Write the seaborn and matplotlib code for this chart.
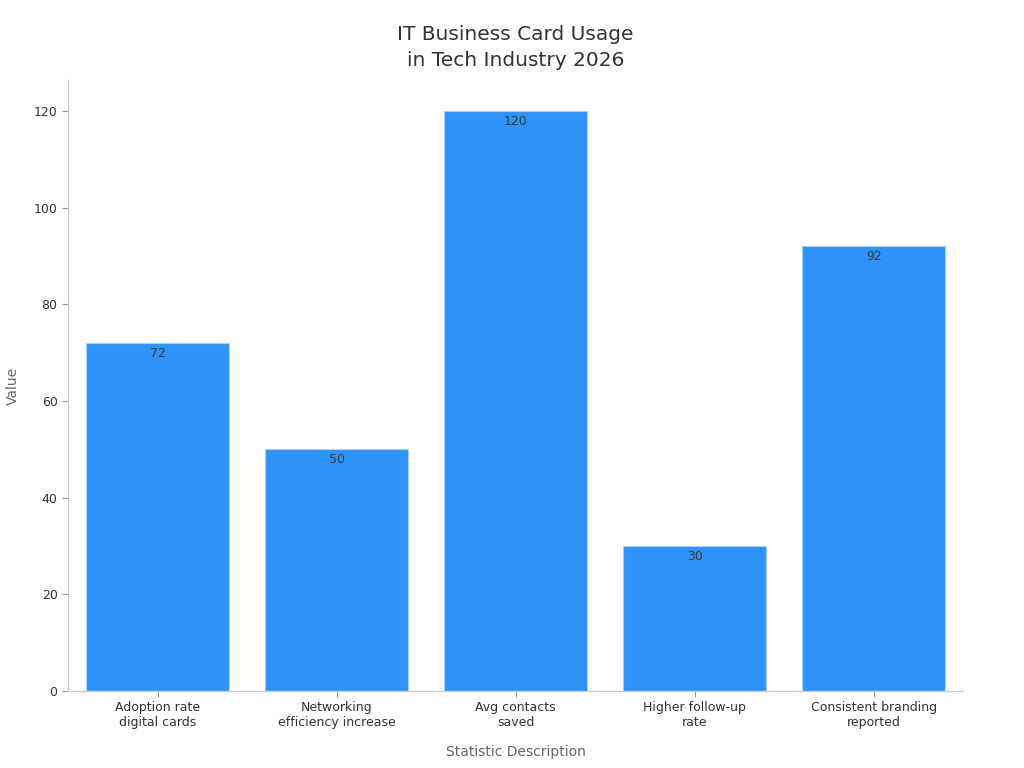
import pandas as pd
import matplotlib.pyplot as plt
import seaborn as sns

# data
categories = [
    "Adoption rate\ndigital cards",
    "Networking\nefficiency increase",
    "Avg contacts\nsaved",
    "Higher follow-up\nrate",
    "Consistent branding\nreported",
]
values = [72, 50, 120, 30, 92]

df = pd.DataFrame({"Statistic Description": categories, "Value": values})

sns.set_theme(style="white")
plt.rcParams['font.family'] = ['DejaVu Sans']

fig = plt.figure(figsize=(10.24, 7.68), dpi=100)
ax = fig.add_axes([0.0664, 0.1003, 0.8742, 0.7955])

sns.barplot(
    data=df, x="Statistic Description", y="Value",
    color="#2E93FA", saturation=1, width=0.8,
    edgecolor="#a6d0fb", linewidth=0.8, ax=ax,
)

# value labels just inside the top of each bar
for p, v in zip(ax.patches, values):
    ax.annotate(str(v), (p.get_x() + p.get_width() / 2, p.get_height()),
                xytext=(0, -3), textcoords="offset points",
                ha="center", va="top", fontsize=9, color="#373d3f")

ax.set_xlim(-0.5, 4.5)
ax.set_ylim(0, 126.4)
ax.set_yticks([0, 20, 40, 60, 80, 100, 120])

ax.set_title("IT Business Card Usage\nin Tech Industry 2026", fontsize=14.5,
             color="#333333", pad=10, linespacing=1.45)
ax.set_xlabel("Statistic Description", fontsize=10, color="#666666", labelpad=11)
ax.set_ylabel("Value", fontsize=10, color="#666666", labelpad=10)

ax.tick_params(axis="both", which="both", labelsize=9, colors="#333333",
               length=4, width=0.8, left=True, bottom=True)
ax.tick_params(axis="both", color="#999999")

sns.despine(ax=ax)
for s in ["left", "bottom"]:
    ax.spines[s].set_color("#cccccc")
    ax.spines[s].set_linewidth(1)

fig.savefig("out.png", dpi=100)
